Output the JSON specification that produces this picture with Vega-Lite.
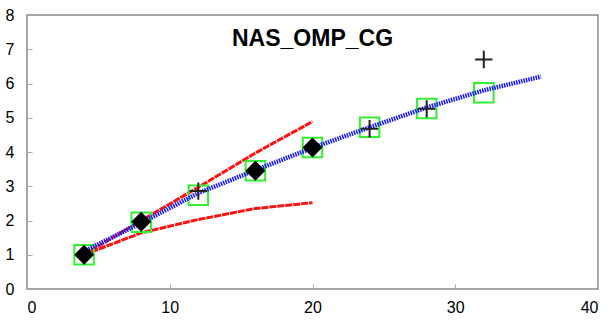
{
  "$schema": "https://vega.github.io/schema/vega-lite/v6.json",
  "width": 571,
  "height": 274,
  "autosize": {"type": "none"},
  "padding": {"left": 27, "top": 15, "right": 18, "bottom": 36},
  "background": "white",
  "title": {
    "text": "NAS_OMP_CG",
    "anchor": "middle",
    "frame": "group",
    "orient": "top",
    "baseline": "alphabetic",
    "offset": -32,
    "dy": 30,
    "font": "Liberation Sans",
    "fontSize": 23,
    "fontWeight": "bold",
    "color": "black"
  },
  "config": {
    "view": {"stroke": "#8a8a8a", "strokeWidth": 1.5},
    "axis": {
      "grid": false,
      "domain": false,
      "ticks": true,
      "tickSize": -5,
      "tickColor": "#aaaaaa",
      "labelFont": "Liberation Sans",
      "labelFontSize": 16,
      "labelColor": "black",
      "labelOverlap": false,
      "labelSeparation": 0,
      "title": null
    }
  },
  "datasets": {
    "pts": [
      {"series": "square", "x": 4, "y": 1.0},
      {"series": "square", "x": 8, "y": 1.95},
      {"series": "square", "x": 12, "y": 2.74},
      {"series": "square", "x": 16, "y": 3.45},
      {"series": "square", "x": 20, "y": 4.13},
      {"series": "square", "x": 24, "y": 4.72},
      {"series": "square", "x": 28, "y": 5.27},
      {"series": "square", "x": 32, "y": 5.73},
      {"series": "diamond", "x": 4, "y": 1.0},
      {"series": "diamond", "x": 8, "y": 1.96},
      {"series": "diamond", "x": 16, "y": 3.45},
      {"series": "diamond", "x": 20, "y": 4.13},
      {"series": "cross", "x": 12, "y": 2.86},
      {"series": "cross", "x": 24, "y": 4.68},
      {"series": "cross", "x": 28, "y": 5.26},
      {"series": "cross", "x": 32, "y": 6.7}
    ],
    "lines": [
      {"series": "fit", "x": 4, "y": 1.1},
      {"series": "fit", "x": 8, "y": 1.93},
      {"series": "fit", "x": 12, "y": 2.8},
      {"series": "fit", "x": 16, "y": 3.47},
      {"series": "fit", "x": 20, "y": 4.12},
      {"series": "fit", "x": 24, "y": 4.72},
      {"series": "fit", "x": 28, "y": 5.3},
      {"series": "fit", "x": 32, "y": 5.8},
      {"series": "fit", "x": 36, "y": 6.2},
      {"series": "upper", "x": 4, "y": 1.0},
      {"series": "upper", "x": 8, "y": 2.0},
      {"series": "upper", "x": 12, "y": 2.97},
      {"series": "upper", "x": 16, "y": 3.97},
      {"series": "upper", "x": 20, "y": 4.89},
      {"series": "lower", "x": 4, "y": 1.0},
      {"series": "lower", "x": 8, "y": 1.64},
      {"series": "lower", "x": 12, "y": 2.03},
      {"series": "lower", "x": 16, "y": 2.35},
      {"series": "lower", "x": 20, "y": 2.52}
    ]
  },
  "encoding": {
    "x": {"field": "x", "type": "quantitative", "scale": {"domain": [0, 40]}, "axis": {"values": [0, 10, 20, 30, 40], "labelPadding": 15, "labelOverlap": false}},
    "y": {"field": "y", "type": "quantitative", "scale": {"domain": [0, 8]}, "axis": {"values": [0, 1, 2, 3, 4, 5, 6, 7, 8], "labelPadding": 18, "labelOverlap": false}}
  },
  "layer": [
    {
      "data": {"name": "lines"},
      "transform": [{"filter": "datum.series !== 'fit'"}],
      "mark": {"type": "line", "color": "#ff1010", "strokeWidth": 3, "strokeDash": [7, 1]},
      "encoding": {"detail": {"field": "series"}}
    },
    {
      "data": {"name": "pts"},
      "transform": [{"filter": "datum.series === 'square'"}],
      "mark": {"type": "point", "shape": "square", "size": 380, "filled": false, "stroke": "#33ee33", "strokeWidth": 2, "opacity": 1}
    },
    {
      "data": {"name": "lines"},
      "transform": [{"filter": "datum.series === 'fit'"}],
      "mark": {"type": "line", "color": "#1515ff", "strokeWidth": 4.5, "strokeDash": [1.5, 1]},
      "encoding": {}
    },
    {
      "data": {"name": "pts"},
      "transform": [{"filter": "datum.series === 'diamond'"}],
      "mark": {"type": "point", "shape": "diamond", "size": 400, "filled": true, "color": "black", "opacity": 1}
    },
    {
      "data": {"name": "pts"},
      "transform": [{"filter": "datum.series === 'cross'"}],
      "mark": {"type": "point", "shape": "M-1,0H1M0,-1V1", "size": 300, "filled": false, "stroke": "#222222", "strokeWidth": 2, "opacity": 1}
    }
  ]
}
